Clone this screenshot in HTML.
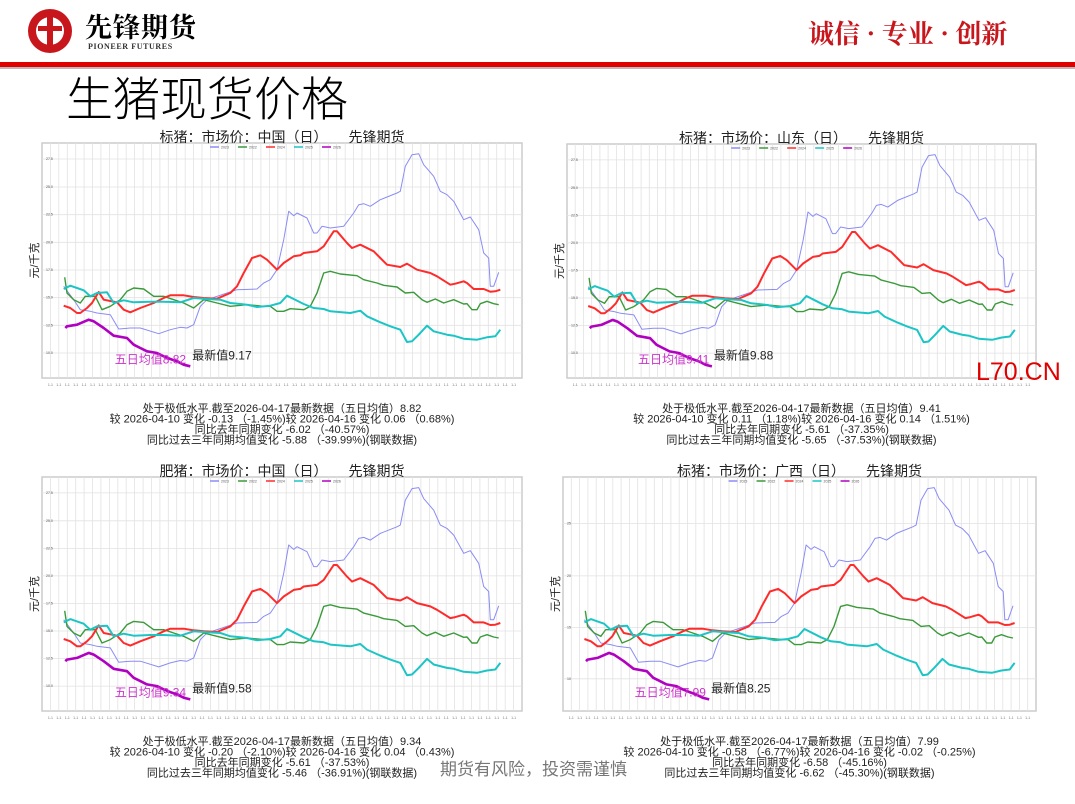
<!DOCTYPE html>
<html><head><meta charset="utf-8">
<style>
body{margin:0;width:1075px;height:804px;background:#fff;overflow:hidden;position:relative;font-family:"Liberation Sans","Noto Sans CJK SC",sans-serif}
.a{position:absolute;white-space:nowrap}
</style></head><body>
<svg class="a" style="left:0;top:0" width="1075" height="804" id="s">
<circle cx="50" cy="31" r="22" fill="#c8161d"/>
<circle cx="50" cy="31" r="14" fill="#fff"/>
<rect x="47" y="14" width="6" height="34" fill="#c8161d"/>
<rect x="38" y="26" width="24" height="5" fill="#c8161d"/>
<rect x="0" y="62" width="1075" height="5" fill="#e00000"/>
<rect x="0" y="67" width="1075" height="2" fill="#bbb"/>
</svg>
<div class="a" style="left:85px;top:10px;font-size:27px;font-weight:bold;font-family:'Noto Serif CJK SC',serif;letter-spacing:1px;line-height:32px">先锋期货</div>
<div class="a" style="left:88px;top:42px;font-size:8px;font-weight:bold;font-family:'Liberation Serif',serif;color:#333;letter-spacing:0.6px">PIONEER FUTURES</div>
<div class="a" style="left:808px;top:14px;font-size:26px;font-weight:bold;color:#c8161d;font-family:'Noto Serif CJK SC',serif">诚信 · 专业 · 创新</div>
<div class="a" style="left:66px;top:66px;font-size:47px;font-family:'Noto Sans CJK SC',sans-serif;font-weight:300;line-height:60px">生猪现货价格</div>
<div class="a" style="left:976px;top:358px;font-size:25px;color:#e00000">L70.CN</div>
<div class="a" style="left:440px;top:755px;font-size:17px;color:#777">期货有风险，投资需谨慎</div>
<script>
const B=[[100,470],[130,510],[150,540],[180,545],[200,550],[240,555],[265,598],[300,595],[330,595],[385,612],[420,600],[450,593],[470,595],[490,585],[510,530],[530,510],[590,490],[620,480],[680,478],[700,460],[720,450],[740,420],[760,330],[775,245],[790,258],[800,250],[830,265],[850,310],[860,310],[875,290],[900,295],[940,290],[970,250],[985,225],[1000,222],[1020,230],[1050,210],[1100,190],[1110,185],[1125,110],[1145,75],[1165,72],[1180,105],[1210,140],[1230,185],[1250,195],[1270,215],[1300,270],[1320,262],[1345,300],[1360,370],[1375,385],[1380,470],[1390,470],[1405,428]];
const G=[[103,443],[110,490],[130,510],[150,520],[165,500],[195,500],[215,540],[240,530],[270,510],[290,485],[310,475],[340,478],[370,500],[400,500],[430,510],[460,520],[490,535],[520,510],[560,520],[600,530],[650,525],[700,530],[720,530],[740,545],[760,545],[780,537],[820,540],[840,530],[860,490],[880,430],[900,425],[930,433],[980,438],[1000,450],[1040,460],[1060,467],[1100,472],[1125,490],[1150,488],[1175,510],[1190,518],[1215,508],[1240,520],[1270,510],[1300,523],[1310,522],[1325,540],[1340,540],[1350,522],[1370,515],[1390,522],[1405,525]];
const R=[[100,528],[120,535],[140,550],[150,550],[170,535],[185,520],[205,487],[220,510],[240,514],[260,518],[280,540],[300,548],[330,535],[370,520],[400,505],[420,497],[460,497],[490,502],[520,505],[560,507],[600,490],[620,470],[640,430],[665,385],[690,377],[710,390],[740,420],[760,400],[790,380],[810,377],[820,370],[860,365],[880,350],[910,305],[920,305],[950,340],[965,355],[990,345],[1030,365],[1050,385],[1070,405],[1110,412],[1130,402],[1160,420],[1200,430],[1220,440],[1260,465],[1275,462],[1300,455],[1310,460],[1330,478],[1360,478],[1380,486],[1395,485],[1410,480]];
const C=[[100,478],[120,468],[140,475],[160,482],[180,500],[200,490],[230,488],[250,520],[280,512],[310,518],[360,516],[400,516],[450,518],[490,505],[530,508],[570,510],[600,520],[630,523],[650,525],[680,532],[720,528],[750,520],[770,498],[790,508],[820,523],[850,535],[880,538],[900,545],[960,550],[990,543],[1010,560],[1050,578],[1080,590],[1110,600],[1130,637],[1145,635],[1165,615],[1190,588],[1210,605],[1250,615],[1270,618],[1300,627],[1340,630],[1370,623],[1395,620],[1410,600]];
const P=[[105,595],[110,590],[140,585],[175,570],[190,575],[220,595],[250,618],[290,625],[310,645],[330,655],[350,665],[380,670],[400,680],[420,688],[440,695],[460,705],[480,710]];
const charts=[
{x:42,y:143,w:480,h:235,t:"标猪：市场价：中国（日）　　先锋期货",a:"五日均值8.82",n:"最新值9.17",ty:[48,132,215,298,381,464,547,630],tl:["27.5","25.0","22.5","20.0","17.5","15.0","12.5","10.0"],
L:["处于极低水平.截至2026-04-17最新数据（五日均值）8.82","较 2026-04-10 变化 -0.13 （-1.45%)较 2026-04-16 变化 0.06 （0.68%)","同比去年同期变化 -6.02 （-40.57%)","同比过去三年同期均值变化 -5.88 （-39.99%)(钢联数据)"]},
{x:567,y:144,w:469,h:234,t:"标猪：市场价：山东（日）　　先锋期货",a:"五日均值9.41",n:"最新值9.88",ty:[48,132,215,298,381,464,547,630],tl:["27.5","25.0","22.5","20.0","17.5","15.0","12.5","10.0"],
L:["处于极低水平.截至2026-04-17最新数据（五日均值）9.41","较 2026-04-10 变化 0.11 （1.18%)较 2026-04-16 变化 0.14 （1.51%)","同比去年同期变化 -5.61 （-37.35%)","同比过去三年同期均值变化 -5.65 （-37.53%)(钢联数据)"]},
{x:42,y:477,w:480,h:234,t:"肥猪：市场价：中国（日）　　先锋期货",a:"五日均值9.34",n:"最新值9.58",ty:[48,132,215,298,381,464,547,630],tl:["27.5","25.0","22.5","20.0","17.5","15.0","12.5","10.0"],
L:["处于极低水平.截至2026-04-17最新数据（五日均值）9.34","较 2026-04-10 变化 -0.20 （-2.10%)较 2026-04-16 变化 0.04 （0.43%)","同比去年同期变化 -5.61 （-37.53%)","同比过去三年同期均值变化 -5.46 （-36.91%)(钢联数据)"]},
{x:563,y:477,w:473,h:234,t:"标猪：市场价：广西（日）　　先锋期货",a:"五日均值7.99",n:"最新值8.25",ty:[140,298,453,608],tl:["25","20","15","10"],
L:["处于极低水平.截至2026-04-17最新数据（五日均值）7.99","较 2026-04-10 变化 -0.58 （-6.77%)较 2026-04-16 变化 -0.02 （-0.25%)","同比去年同期变化 -6.58 （-45.16%)","同比过去三年同期均值变化 -6.62 （-45.30%)(钢联数据)"]}];
let h='';
for(const c of charts){
 const X=v=>(c.x+(v-35)/1440*c.w).toFixed(1), Y=v=>(c.y+(v-40)/705*c.h).toFixed(1);
 h+=`<rect x="${c.x}" y="${c.y}" width="${c.w}" height="${c.h}" fill="#fff" stroke="#ccc" stroke-width="1.5"/>`;
 for(let i=1;i<57;i++){const gx=(c.x+i*c.w/57).toFixed(1);h+=`<line x1="${gx}" y1="${c.y}" x2="${gx}" y2="${c.y+c.h}" stroke="#e2e2e2" stroke-width="0.8"/>`;
  h+=`<text x="${gx}" y="${c.y+c.h+8}" font-size="3.5" fill="#777" text-anchor="middle">1-1</text>`;}
 c.ty.forEach((t,i)=>{const gy=Y(t+40);h+=`<line x1="${c.x}" y1="${gy}" x2="${c.x+c.w}" y2="${gy}" stroke="#e2e2e2" stroke-width="0.8"/><text x="${c.x+4}" y="${+gy+1}" font-size="3.5" fill="#555">${c.tl[i]}</text>`;});
 const pl=(d,col,w)=>{h+=`<polyline points="${d.map(p=>X(p[0])+','+Y(p[1])).join(' ')}" fill="none" stroke="${col}" stroke-width="${w}" stroke-linejoin="round"/>`;};
 pl(B,"#8a8cf5",1);pl(G,"#3a9a3a",1.4);pl(R,"#ff2b2b",2);pl(C,"#1cc5c5",2);pl(P,"#b000c0",2.6);
 const lx=c.x+c.w*0.35,ly=c.y+4;
 [["#8a8cf5","2023"],["#3a9a3a","2022"],["#ff2b2b","2024"],["#1cc5c5","2025"],["#b000c0","2026"]].forEach((q,i)=>{h+=`<line x1="${lx+i*28}" y1="${ly}" x2="${lx+i*28+9}" y2="${ly}" stroke="${q[0]}" stroke-width="1.5"/><text x="${lx+i*28+11}" y="${ly+1.5}" font-size="3.5" fill="#555">${q[1]}</text>`;});
 const cx=c.x+c.w/2;
 h+=`<text x="${cx}" y="${c.y-1}" font-size="14" text-anchor="middle" fill="#222">${c.t}</text>`;
 h+=`<text x="${X(253)}" y="${Y(702)}" font-size="12" fill="#cc33cc">${c.a}</text>`;
 h+=`<text x="${X(486)}" y="${Y(690)}" font-size="12" fill="#222">${c.n}</text>`;
 h+=`<text transform="translate(${c.x-4},${c.y+c.h*0.5}) rotate(-90)" font-size="11" text-anchor="middle" fill="#222">元/千克</text>`;
 c.L.forEach((l,i)=>{h+=`<text x="${cx}" y="${c.y+c.h+34+i*10.5}" font-size="11" text-anchor="middle" fill="#222">${l}</text>`;});
}
document.getElementById('s').insertAdjacentHTML('beforeend',h);
</script>
</body></html>
